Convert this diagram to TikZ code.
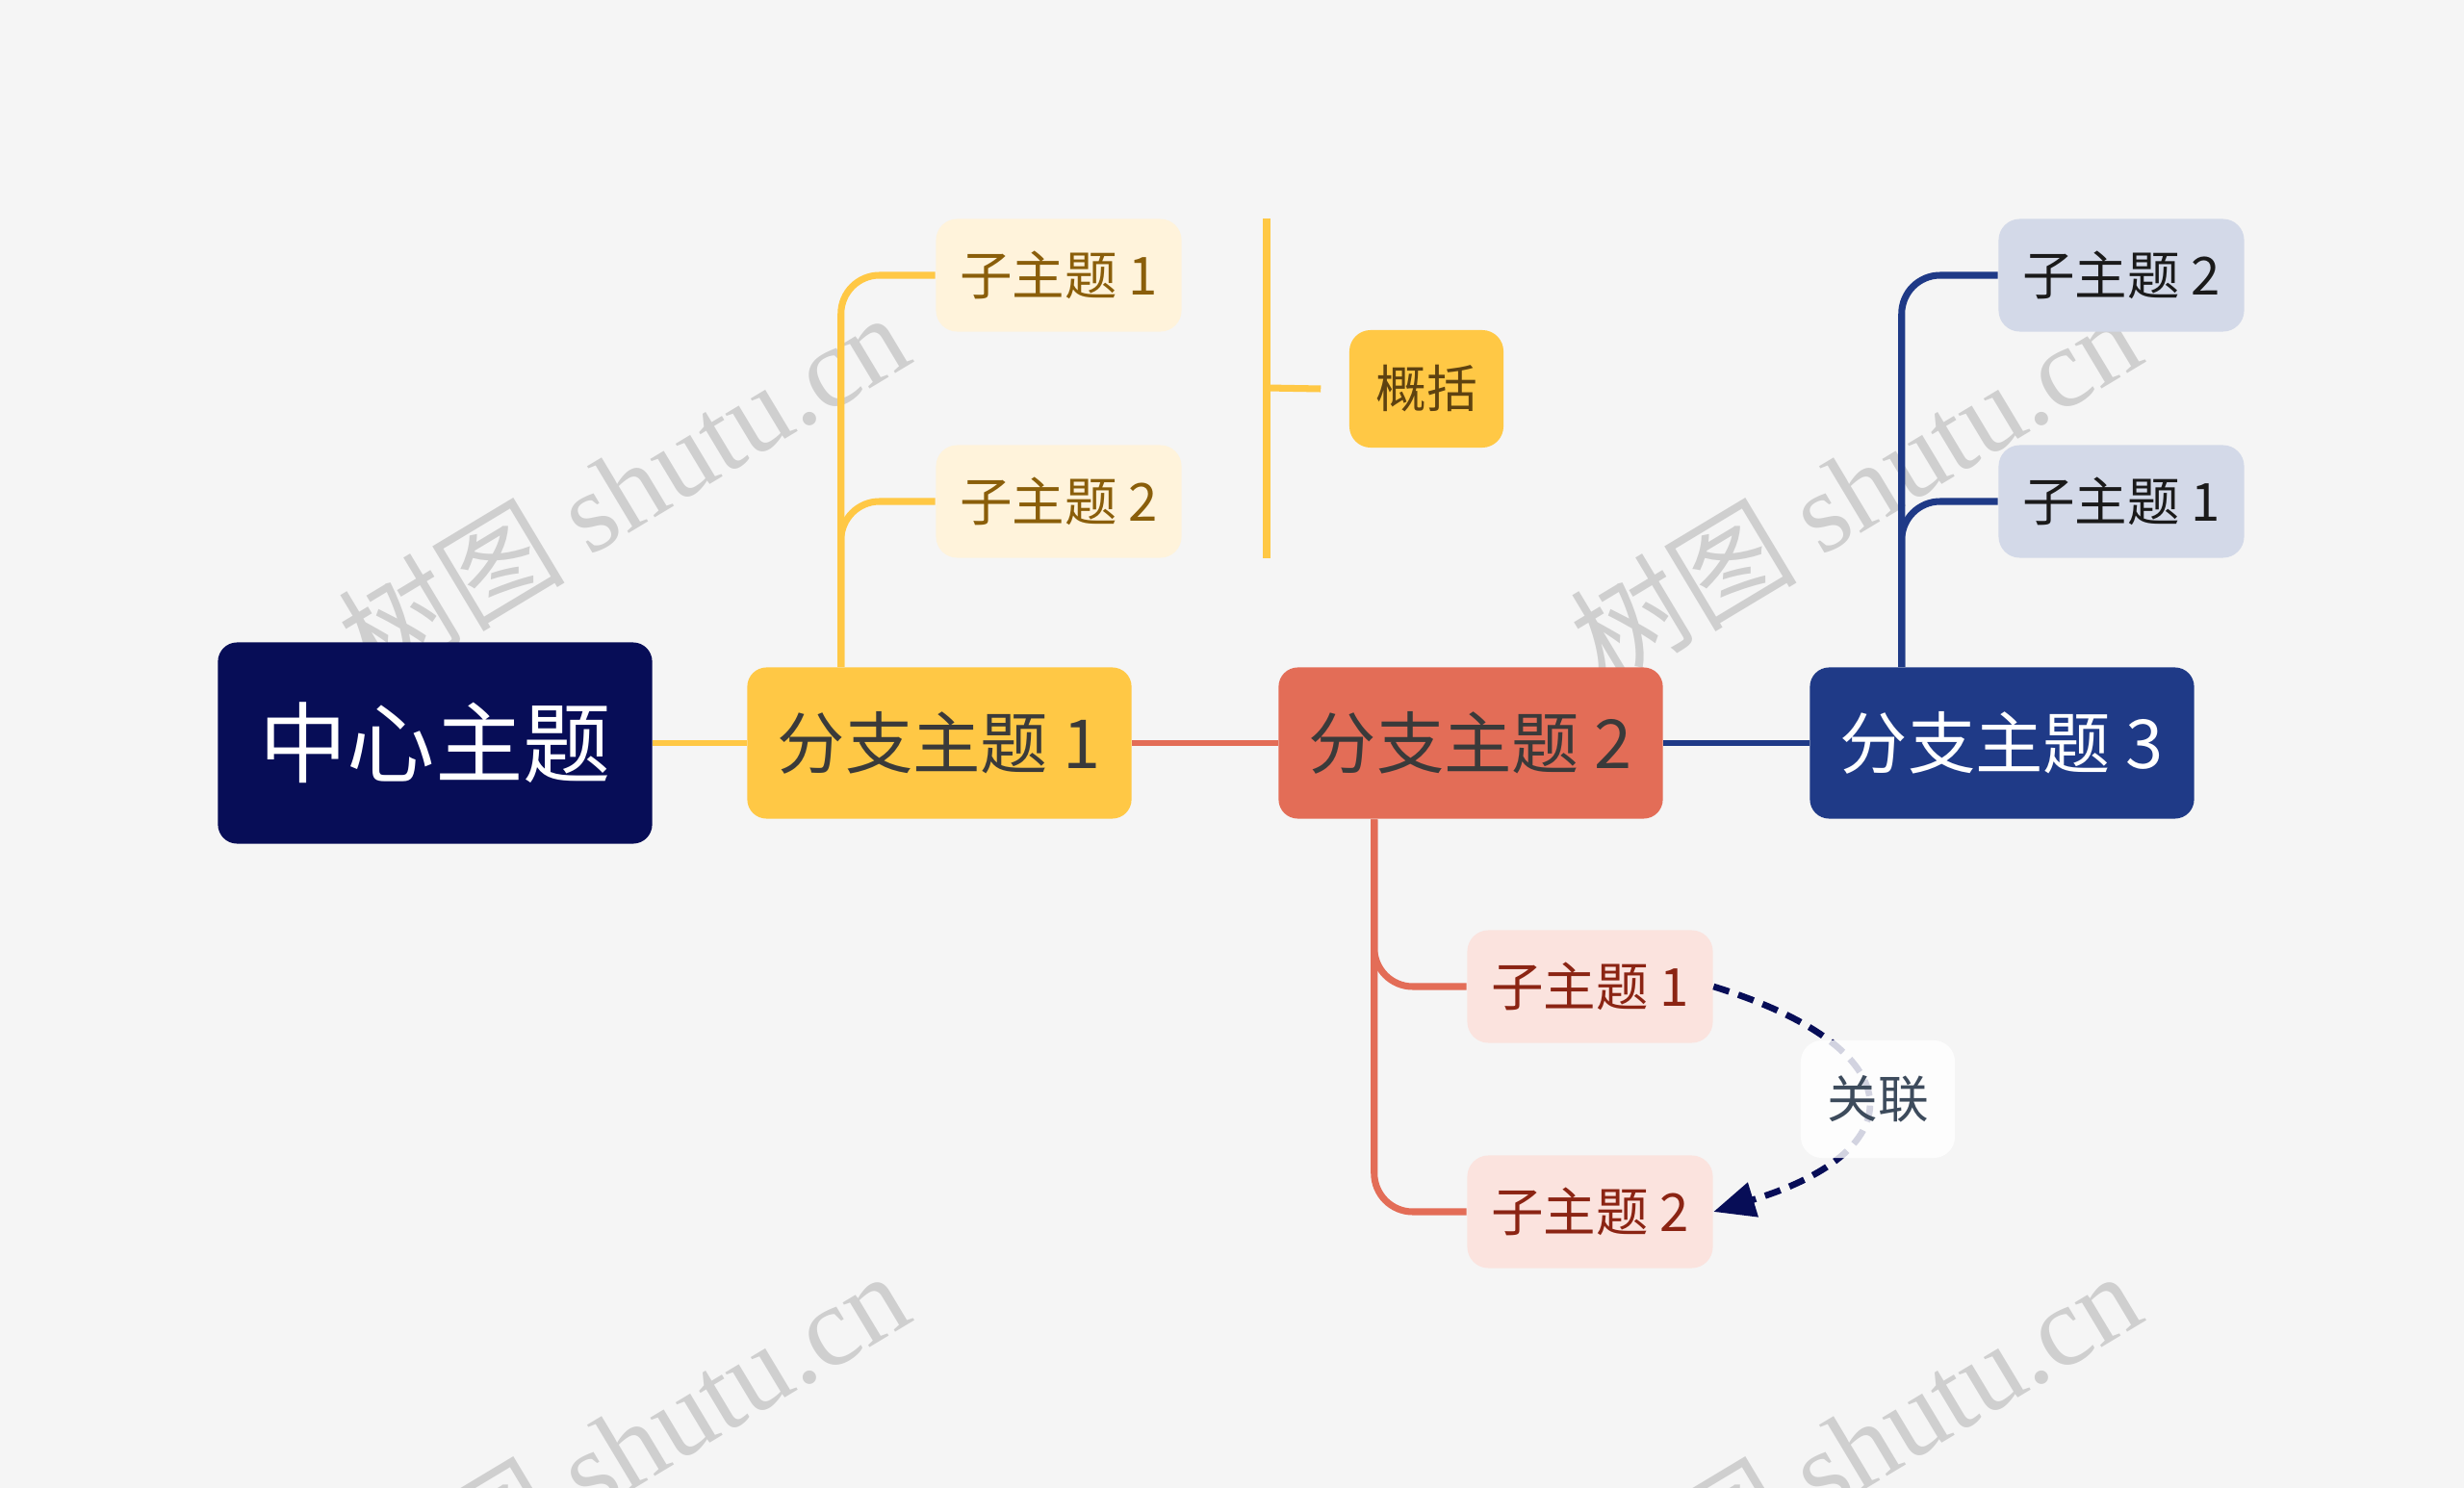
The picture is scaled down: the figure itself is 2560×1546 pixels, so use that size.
\documentclass[tikz,border=0pt]{standalone}
\usepackage{fontspec}
\setmainfont{Noto Sans CJK SC}
\newfontfamily\cjk{Noto Sans CJK SC}
\newfontfamily\wmfont{Liberation Serif}
\usetikzlibrary{arrows.meta,calc}
\definecolor{bgc}{HTML}{F5F5F5}
\definecolor{cnav}{HTML}{070D57}
\definecolor{cyel}{HTML}{FFC845}
\definecolor{corg}{HTML}{E36D57}
\definecolor{cblu}{HTML}{1F3A87}
\definecolor{sAf}{HTML}{FFF3DB}
\definecolor{sAt}{HTML}{8A5E0A}
\definecolor{sBf}{HTML}{FBE3DE}
\definecolor{sBt}{HTML}{8B2413}
\definecolor{sCf}{HTML}{D3D9E8}
\definecolor{sCt}{HTML}{1A1A1A}
\definecolor{btxt}{HTML}{3A3A3A}
\definecolor{sumt}{HTML}{5E4210}
\definecolor{relt}{HTML}{3D4B5C}
\definecolor{wmc}{HTML}{CFCFCF}
\tikzset{
  box/.style={rounded corners=0.2cm, inner sep=0pt, align=center},
  centerbox/.style={box, fill=cnav, text=white, minimum width=4.51cm, minimum height=2.09cm, font=\fontsize{26pt}{30pt}\selectfont},
  branchbox/.style={box, minimum width=3.99cm, minimum height=1.57cm, font=\fontsize{20pt}{24pt}\selectfont},
  subbox/.style={box, rounded corners=0.22cm, minimum width=2.55cm, minimum height=1.17cm, font=\fontsize{15.5pt}{18pt}\selectfont},
  smallbox/.style={box, rounded corners=0.22cm, minimum width=1.60cm, minimum height=1.22cm, font=\fontsize{15pt}{18pt}\selectfont},
  conn/.style={line width=1.8pt},
  kid/.style={line width=2pt, rounded corners=0.4cm},
  rel/.style={line width=1.9pt, cnav, dash pattern=on 0.17cm off 0.1cm, -{Triangle[length=0.43cm,width=0.36cm]}},
  wm/.style={text=wmc, rotate=31, font=\fontsize{33.5pt}{40pt}\selectfont, inner sep=0pt}
}
\begin{document}
\begin{tikzpicture}[x=0.01cm, y=-0.01cm]
\fill[bgc] (0,0) rectangle (2560,1546);
\useasboundingbox (0,0) rectangle (2560,1546);
% watermarks
\node[wm] (wm1) at (647,506) {\cjk 树图 \wmfont shutu.cn};
\node[wm] (wm2) at (1927,506) {\cjk 树图 \wmfont shutu.cn};
\node[wm] (wm3) at (647,1502) {\cjk 树图 \wmfont shutu.cn};
\node[wm] (wm4) at (1927,1502) {\cjk 树图 \wmfont shutu.cn};
% main nodes
\node[centerbox] (c) at (452,772) {中心主题};
\node[branchbox, fill=cyel, text=btxt] (b1) at (976,772) {分支主题 1};
\node[branchbox, fill=corg, text=btxt] (b2) at (1528,772) {分支主题 2};
\node[branchbox, fill=cblu, text=white] (b3) at (2080,772) {分支主题 3};
% sub nodes
\node[subbox, fill=sAf, text=sAt] (a1) at (1100,286) {子主题 1};
\node[subbox, fill=sAf, text=sAt] (a2) at (1100,521) {子主题 2};
\node[subbox, fill=sBf, text=sBt] (r1) at (1652,1025) {子主题 1};
\node[subbox, fill=sBf, text=sBt] (r2) at (1652,1259) {子主题 2};
\node[subbox, fill=sCf, text=sCt] (n2) at (2204,286) {子主题 2};
\node[subbox, fill=sCf, text=sCt] (n1) at (2204,521) {子主题 1};
\node[smallbox, fill=cyel, text=sumt] (sum) at (1482,404) {概括};
% main connectors
\draw[conn, cyel] (c.east) -- (b1.west);
\draw[conn, corg] (b1.east) -- (b2.west);
\draw[conn, cblu] (b2.east) -- (b3.west);
% children connectors
\draw[kid, cyel] ([xshift=0.98cm]b1.north west) |- (a1.west);
\draw[kid, cyel] ([xshift=0.98cm]b1.north west) |- (a2.west);
\draw[kid, corg] ([xshift=1.00cm]b2.south west) |- (r1.west);
\draw[kid, corg] ([xshift=1.00cm]b2.south west) |- (r2.west);
\draw[kid, cblu] ([xshift=0.96cm]b3.north west) |- (n2.west);
\draw[kid, cblu] ([xshift=0.96cm]b3.north west) |- (n1.west);
% summary bracket
\coordinate (brt) at (1316,227);
\coordinate (brb) at (1316,580);
\coordinate (brm) at (1316,403);
\draw[kid, cyel] (brt) -- (brb);
\draw[kid, cyel] (brm) -- ([xshift=-0.29cm]sum.west);
% relationship
\draw[rel] (r1.east) .. controls (1990,1090) and (1990,1195) .. (r2.east);
\node[smallbox, fill=white, fill opacity=0.82, text opacity=1, text=relt] (lab) at (1951,1142) {关联};
\end{tikzpicture}
\end{document}
